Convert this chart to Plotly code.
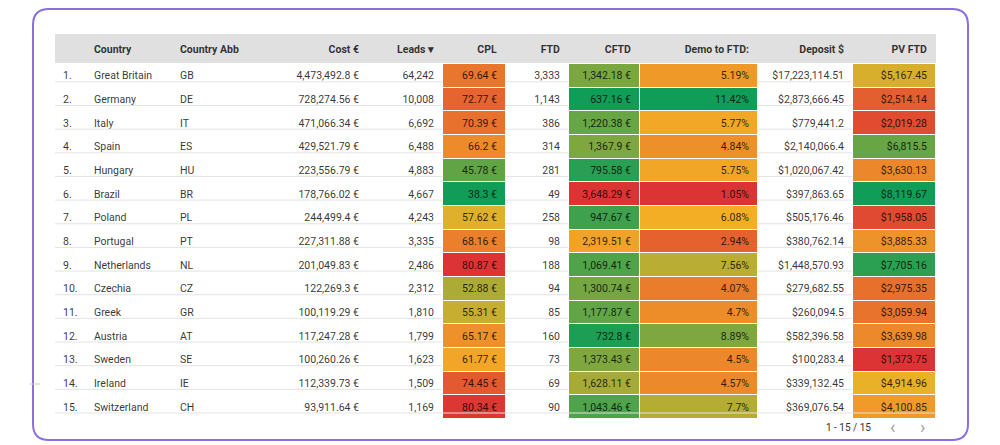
import plotly.graph_objects as go
from plotly.colors import sample_colorscale

# ---------------- data ----------------
countries = ["Great Britain", "Germany", "Italy", "Spain", "Hungary", "Brazil", "Poland",
             "Portugal", "Netherlands", "Czechia", "Greek", "Austria", "Sweden", "Ireland",
             "Switzerland"]
abbs = ["GB", "DE", "IT", "ES", "HU", "BR", "PL", "PT", "NL", "CZ", "GR", "AT", "SE", "IE", "CH"]
cost = [4473492.8, 728274.56, 471066.34, 429521.79, 223556.79, 178766.02, 244499.4,
        227311.88, 201049.83, 122269.3, 100119.29, 117247.28, 100260.26, 112339.73, 93911.64]
leads = [64242, 10008, 6692, 6488, 4883, 4667, 4243, 3335, 2486, 2312, 1810, 1799, 1623,
         1509, 1169]
cpl = [69.64, 72.77, 70.39, 66.2, 45.78, 38.3, 57.62, 68.16, 80.87, 52.88, 55.31, 65.17,
       61.77, 74.45, 80.34]
ftd = [3333, 1143, 386, 314, 281, 49, 258, 98, 188, 94, 85, 160, 73, 69, 90]
cftd = [1342.18, 637.16, 1220.38, 1367.9, 795.58, 3648.29, 947.67, 2319.51, 1069.41,
        1300.74, 1177.87, 732.8, 1373.43, 1628.11, 1043.46]
demo_to_ftd = [5.19, 11.42, 5.77, 4.84, 5.75, 1.05, 6.08, 2.94, 7.56, 4.07, 4.7, 8.89, 4.5,
               4.57, 7.7]
deposit = [17223114.51, 2873666.45, 779441.2, 2140066.4, 1020067.42, 397863.65, 505176.46,
           380762.14, 1448570.93, 279682.55, 260094.5, 582396.58, 100283.4, 339132.45,
           369076.54]
pv_ftd = [5167.45, 2514.14, 2019.28, 6815.5, 3630.13, 8119.67, 1958.05, 3885.33, 7705.16,
          2975.35, 3059.94, 3639.98, 1373.75, 4914.96, 4100.85]

headers = ["", "Country", "Country Abb", "Cost €", "Leads ▾", "CPL", "FTD", "CFTD",
           "Demo to FTD:", "Deposit $", "PV FTD"]
pagination = "1 - 15 / 15"

# ---------------- styling ----------------
W, H = 1000, 445
heat_scale = [[0.0, "rgb(16,157,88)"], [0.5, "rgb(244,178,38)"], [1.0, "rgb(220,52,52)"]]
FONT = "Roboto, 'Noto Sans', sans-serif"
TXT = "rgba(0,0,0,0.8)"
HEAD_FILL = "#e0e0e0"
col_w = [31, 86, 100, 95, 75, 63, 63, 71, 118, 95, 83]
table_left, table_top, table_bottom = 55, 34.5, 413
spacer_h = 30          # invisible built-in header strip, kept above the card content


def fmt(v):
    s = f"{v:,.2f}"
    if "." in s:
        s = s.rstrip("0").rstrip(".")
    return s


def heat(vals, reverse=False):
    lo, hi = min(vals), max(vals)
    ts = [(v - lo) / (hi - lo) for v in vals]
    if reverse:
        ts = [1 - t for t in ts]
    return sample_colorscale(heat_scale, ts)


n = len(countries)
row_h = (table_bottom - table_top) / (n + 1)   # header line + data rows
white = ["white"] * n
body = [
    [f"{i + 1}." for i in range(n)],
    countries,
    abbs,
    [fmt(v) + " €" for v in cost],
    [f"{v:,}" for v in leads],
    [fmt(v) + " €" for v in cpl],
    [f"{v:,}" for v in ftd],
    [fmt(v) + " €" for v in cftd],
    [fmt(v) + "%" for v in demo_to_ftd],
    ["$" + fmt(v) for v in deposit],
    ["$" + fmt(v) for v in pv_ftd],
]
body_fills = [white, white, white, white, white, heat(cpl), white, heat(cftd),
              heat(demo_to_ftd, reverse=True), white, heat(pv_ftd, reverse=True)]
aligns = ["left", "left", "left", "right", "right", "right", "right", "right", "right",
          "right", "right"]

values = [[f"<b>{h}</b>" if h else ""] + col for h, col in zip(headers, body)]
fills = [[HEAD_FILL] + f for f in body_fills]
line_colors = [[HEAD_FILL] + ["white"] * n for _ in headers]

table_right = table_left + sum(col_w)

fig = go.Figure(go.Table(
    domain=dict(x=[table_left / W, table_right / W],
                y=[1 - (table_bottom + 6) / H, 1 - (table_top - spacer_h) / H]),
    columnwidth=col_w,
    header=dict(values=[""] * len(headers), height=spacer_h,
                fill_color="rgba(0,0,0,0)", line=dict(color="rgba(0,0,0,0)", width=0)),
    cells=dict(values=values, fill_color=fills, line=dict(color=line_colors, width=1),
               align=aligns, height=row_h,
               font=dict(family=FONT, size=10.5, color=TXT)),
))


def px(x):
    return x / W


def py(y):
    return 1 - y / H


shapes = []
# row separators in the uncoloured columns
edges = [table_left]
for w in col_w:
    edges.append(edges[-1] + w)
white_cols = [i for i, f in enumerate(body_fills) if f is white]
for r in range(2, n + 2):
    y = table_top + r * row_h
    if r == n + 1:
        segs = [(table_left, table_right)]
    else:
        segs = [(edges[c], edges[c + 1]) for c in white_cols]
    for a, b in segs:
        shapes.append(dict(type="line", xref="paper", yref="paper", x0=px(a), x1=px(b),
                           y0=py(y), y1=py(y), line=dict(color="#e3e3e3", width=1),
                           layer="above"))

# rounded card border
x0, x1, y0, y1, r = 33, 968, 9, 440, 16
path = (f"M {px(x0 + r)},{py(y0)} L {px(x1 - r)},{py(y0)} Q {px(x1)},{py(y0)} {px(x1)},{py(y0 + r)} "
        f"L {px(x1)},{py(y1 - r)} Q {px(x1)},{py(y1)} {px(x1 - r)},{py(y1)} "
        f"L {px(x0 + r)},{py(y1)} Q {px(x0)},{py(y1)} {px(x0)},{py(y1 - r)} "
        f"L {px(x0)},{py(y0 + r)} Q {px(x0)},{py(y0)} {px(x0 + r)},{py(y0)} Z")
shapes.append(dict(type="path", xref="paper", yref="paper", path=path,
                   line=dict(color="#8c6ee2", width=2), layer="above"))
shapes.append(dict(type="line", xref="paper", yref="paper", x0=px(30), x1=px(40),
                   y0=py(384), y1=py(384), line=dict(color="#c8c8c8", width=1)))

annotations = [
    dict(text=pagination, x=px(848), y=py(427), xref="paper", yref="paper",
         xanchor="center", yanchor="middle", showarrow=False,
         font=dict(family=FONT, size=10, color="#333333")),
    dict(text="‹", x=px(892), y=py(426), xref="paper", yref="paper",
         xanchor="center", yanchor="middle", showarrow=False,
         font=dict(family=FONT, size=18, color="#a0a0a0")),
    dict(text="›", x=px(922), y=py(426), xref="paper", yref="paper",
         xanchor="center", yanchor="middle", showarrow=False,
         font=dict(family=FONT, size=18, color="#a0a0a0")),
]

fig.update_layout(width=W, height=H, margin=dict(l=0, r=0, t=0, b=0),
                  paper_bgcolor="white", plot_bgcolor="white",
                  shapes=shapes, annotations=annotations)
fig.write_html("out.html", config={"displayModeBar": False},
               post_script="document.body.style.margin='0';")
